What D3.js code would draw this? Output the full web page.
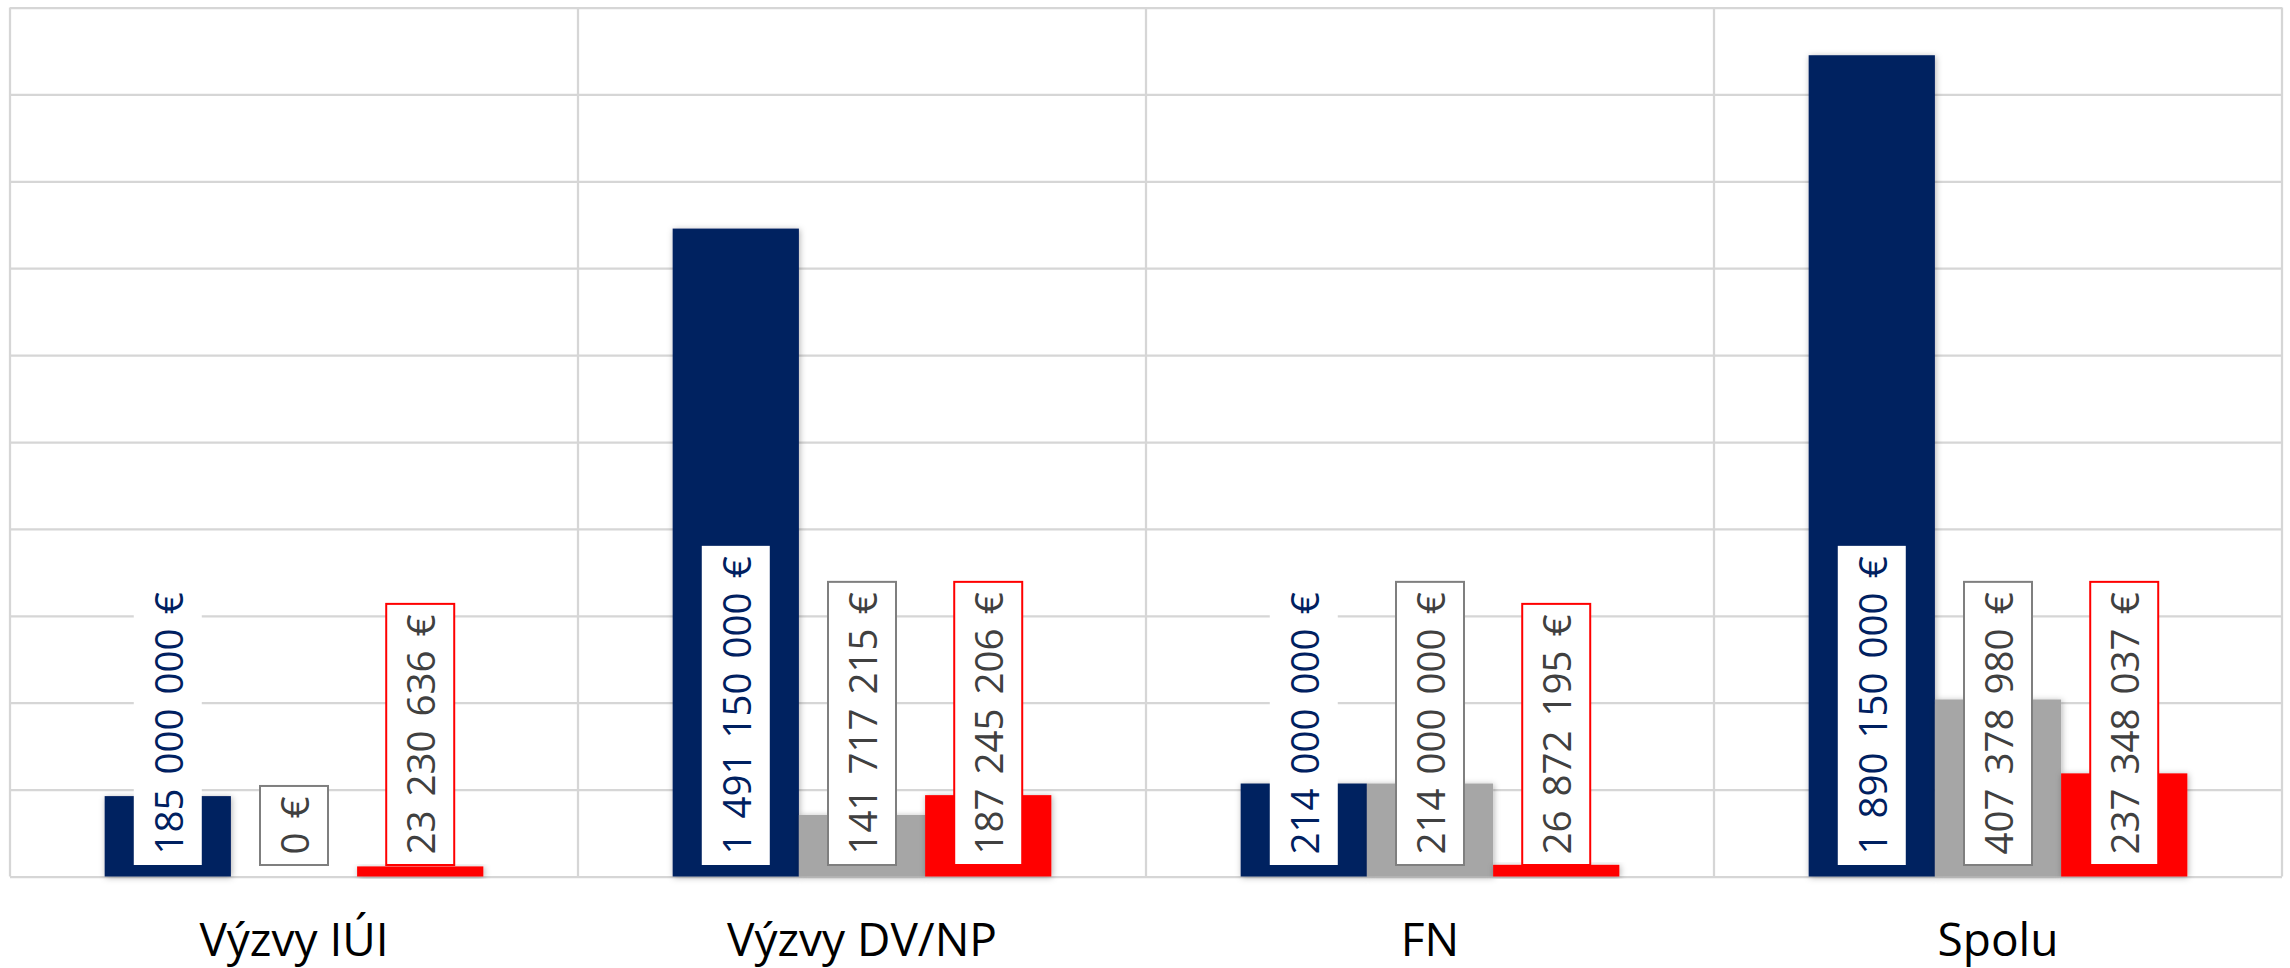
<!DOCTYPE html>
<html><head><meta charset="utf-8">
<script src="https://cdn.jsdelivr.net/npm/d3@7"></script>
<style>
html,body{margin:0;padding:0;background:#fff;}
svg{display:block;}
</style></head>
<body>
<svg id="chart" width="2290" height="968"></svg>
<script>
// ---- data ----
const categories = ["Výzvy IÚI", "Výzvy DV/NP", "FN", "Spolu"];
const seriesNames = ["Séria 1", "Séria 2", "Séria 3"];
const series1Values = [185000000, 1491150000, 214000000, 1890150000];
const series2Values = [0, 141717215, 214000000, 407378980];
const series3Values = [23230636, 187245206, 26872195, 237348037];
const yDomainMax = 2000000000;
const yTickCount = 10;

// ---- styles ----
const seriesValues = [series1Values, series2Values, series3Values];
const seriesStyle = [
  {fill: "#002060", text: "#002060", stroke: "none"},
  {fill: "#A6A6A6", text: "#404040", stroke: "#7F7F7F"},
  {fill: "#FF0000", text: "#404040", stroke: "#FF0000"}
];
const FONT = "'Open Sans', 'Liberation Sans', sans-serif";
const labelFontSize = 38.5;
const capH = 0.714 * labelFontSize;

const W = 2290, H = 968;
const m = {left: 10, right: 8, top: 7.5, bottom: 91.5};
const plotW = W - m.left - m.right;
const plotH = H - m.top - m.bottom;

const svg = d3.select("#chart");
svg.append("rect").attr("width", W).attr("height", H).attr("fill", "#fff");

const defs = svg.append("defs");
const f = defs.append("filter").attr("id", "shadow")
  .attr("x", "-20%").attr("y", "-20%").attr("width", "140%").attr("height", "140%");
f.append("feDropShadow").attr("dx", 1).attr("dy", 1).attr("stdDeviation", 3)
  .attr("flood-color", "#000").attr("flood-opacity", 0.3);

const g = svg.append("g").attr("transform", `translate(${m.left},${m.top})`);

const x0 = d3.scaleBand().domain(categories).range([0, plotW]).padding(0);
const x1 = d3.scaleBand().domain(seriesNames).range([0, x0.bandwidth()])
  .paddingInner(0).paddingOuter(0.75);
const y = d3.scaleLinear().domain([0, yDomainMax]).range([plotH, 0]);

// horizontal gridlines
const gy = g.append("g").call(d3.axisLeft(y).ticks(yTickCount).tickSize(-plotW).tickFormat(""));
gy.select(".domain").remove();
gy.selectAll(".tick line").attr("stroke", "#D6D6D6").attr("stroke-width", 2.25);

// vertical category boundary lines
const bounds = categories.map(c => x0(c)).concat([x0.range()[1]]);
g.append("g").selectAll("line").data(bounds).join("line")
  .attr("x1", d => d).attr("x2", d => d)
  .attr("y1", y(yDomainMax)).attr("y2", y(0))
  .attr("stroke", "#D6D6D6").attr("stroke-width", 2.25);

// data
const data = categories.map((c, i) => ({
  category: c,
  values: seriesNames.map((s, j) => ({series: s, idx: j, value: seriesValues[j][i]}))
}));

// bars
const groups = g.append("g").selectAll("g").data(data).join("g")
  .attr("transform", d => `translate(${x0(d.category)},0)`);
groups.selectAll("rect").data(d => d.values).join("rect")
  .attr("x", d => x1(d.series))
  .attr("width", x1.bandwidth())
  .attr("y", d => y(d.value))
  .attr("height", d => y(0) - y(d.value))
  .attr("fill", d => seriesStyle[d.idx].fill)
  .attr("filter", "url(#shadow)");

// labels
const locale = d3.formatLocale({decimal: ",", thousands: " ", grouping: [3], currency: ["", " €"]});
const fmt = locale.format(",.0f");
const labelLayer = g.append("g");
data.forEach(d => {
  d.values.forEach(v => {
    const cx = x0(d.category) + x1(v.series) + x1.bandwidth() / 2;
    const lg = labelLayer.append("g");
    const rect = lg.append("rect");
    const t = lg.append("text")
      .text(fmt(v.value) + " €")
      .attr("font-family", FONT)
      .attr("font-size", labelFontSize)
      .attr("word-spacing", 4)
      .attr("fill", seriesStyle[v.idx].text)
      .attr("text-anchor", "middle");
    const len = t.node().getBBox().width;
    const pad = 10.5;
    const boxH = len + 2 * pad;
    const boxW = 68;
    const boxBottom = y(0) - 11.5;
    const cy = boxBottom - boxH / 2;
    rect.attr("x", cx - boxW / 2).attr("y", boxBottom - boxH)
      .attr("width", boxW).attr("height", boxH)
      .attr("fill", "#fff")
      .attr("stroke", seriesStyle[v.idx].stroke)
      .attr("stroke-width", 2);
    t.attr("transform", `translate(${cx + 1 + capH / 2},${cy}) rotate(-90)`);
  });
});

// category axis
const gx = g.append("g").attr("transform", `translate(0,${plotH})`)
  .call(d3.axisBottom(x0).tickSize(0).tickPadding(47));
gx.select(".domain").remove();
gx.selectAll("text").attr("font-family", FONT).attr("font-size", 46).attr("fill", "#000");
</script>
</body></html>
